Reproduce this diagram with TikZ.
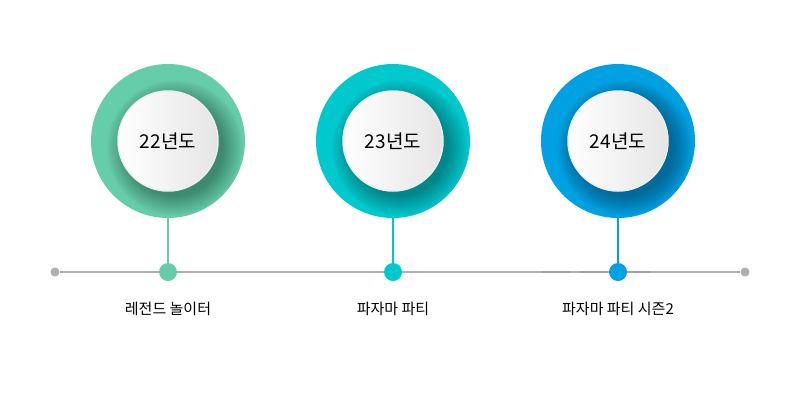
\documentclass[tikz,border=0pt]{standalone}
\usepackage{fontspec}
\newfontfamily\kr{Noto Sans CJK KR}
\usetikzlibrary{calc}
\definecolor{cgreen}{RGB}{102,205,170}
\definecolor{cteal}{RGB}{0,201,206}
\definecolor{cblue}{RGB}{0,161,226}
\definecolor{lgray}{RGB}{176,176,176}
\definecolor{dgray}{RGB}{160,160,160}
\tikzset{
  ring/.style={circle,minimum size=154pt,inner sep=0pt},
  face/.style={circle,minimum size=100pt,inner sep=0pt,draw=black!7,line width=1.5pt,
    shading=axis,shading angle=135,left color=white,right color=black!10,font=\kr\fontsize{19}{19}\selectfont},
  dot/.style={circle,minimum size=18pt,inner sep=0pt},
  enddot/.style={circle,minimum size=9pt,inner sep=0pt,fill=lgray},
  lbl/.style={font=\kr\fontsize{15}{15}\selectfont},
  stem/.style={line width=1.6pt},
  axis/.style={lgray,line width=1.6pt}
}
\begin{document}
\begin{tikzpicture}[x=1pt,y=-1pt]
\useasboundingbox (0,0) rectangle (800,400);
\node[enddot] (e1) at (55,272) {};
\node[enddot] (e2) at (745,272) {};
\draw[axis] (e1) -- (e2);
\draw[dgray,line width=1.6pt] (542,272) -- (570,272) (580,272) -- (650,272);
\foreach \i/\x/\c/\t/\l in {1/168/cgreen/22년도/레전드 놀이터,2/393/cteal/23년도/파자마 파티,3/618/cblue/24년도/파자마 파티 시즌2}{
  \node[ring,fill=\c] (r\i) at (\x,141) {};
  \node[dot,fill=\c] (d\i) at (\x,272) {};
  \draw[stem,\c] (r\i.south) -- (d\i);
  \begin{scope}
    \clip (\x,141) circle (77);
    \foreach \k in {0,1,...,20}{
      \fill[black,opacity=0.014] (\x+7,141+7) circle (48+\k);
    }
  \end{scope}
  \node[face] (f\i) at (\x,141) {\t};
  \node[lbl] (l\i) at (\x,309) {\l};
}
\end{tikzpicture}
\end{document}
